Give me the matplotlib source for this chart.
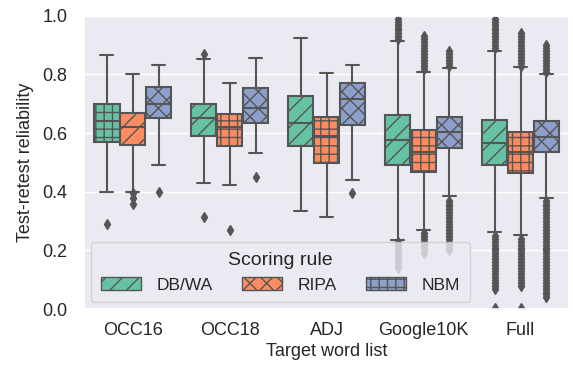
import numpy as np
import matplotlib
matplotlib.use("Agg")
import matplotlib.pyplot as plt
import seaborn as sns
from matplotlib.patches import Patch

sns.set_theme(style="darkgrid")
plt.rcParams['font.family'] = ['Liberation Sans', 'DejaVu Sans']

# word lists and scoring rules
word_lists = ["OCC16", "OCC18", "ADJ", "Google10K", "Full"]
rules = ["DB/WA", "RIPA", "NBM"]
colors = ["#66c2a5", "#fc8d62", "#8da0cb"]

# box statistics, one row per word list, one column per rule
q1 = [[0.57, 0.56, 0.65], [0.59, 0.557, 0.634], [0.557, 0.498, 0.628],
      [0.49, 0.468, 0.55], [0.49, 0.464, 0.536]]
med = [[0.64, 0.62, 0.70], [0.65, 0.62, 0.685], [0.636, 0.59, 0.716],
       [0.577, 0.536, 0.605], [0.567, 0.536, 0.587]]
q3 = [[0.70, 0.67, 0.757], [0.70, 0.665, 0.755], [0.725, 0.655, 0.77],
      [0.662, 0.61, 0.656], [0.645, 0.605, 0.64]]
whis_lo = [[0.40, 0.40, 0.49], [0.43, 0.423, 0.533], [0.335, 0.315, 0.44],
           [0.235, 0.27, 0.385], [0.263, 0.253, 0.38]]
whis_hi = [[0.868, 0.80, 0.833], [0.853, 0.77, 0.856], [0.925, 0.805, 0.833],
           [0.915, 0.81, 0.822], [0.88, 0.826, 0.80]]
fliers = [
    [[0.29], [0.395, 0.38, 0.36], [0.40]],
    [[0.87, 0.315], [0.27], [0.45]],
    [[], [], [0.397]],
    [[0.14, 0.15, 0.16, 0.17, 0.18, 0.19, 0.20, 0.21, 0.22, 0.23,
      0.92, 0.93, 0.94, 0.95, 0.96, 0.97, 0.98, 0.99],
     [0.19, 0.20, 0.21, 0.22, 0.23, 0.24, 0.25, 0.26,
      0.82, 0.83, 0.84, 0.85, 0.86, 0.87, 0.88, 0.89, 0.90, 0.91, 0.92, 0.93],
     [0.20, 0.21, 0.22, 0.23, 0.24, 0.25, 0.26, 0.27, 0.28, 0.29, 0.30,
      0.31, 0.32, 0.33, 0.34, 0.35, 0.36, 0.37,
      0.83, 0.84, 0.85, 0.86, 0.87, 0.88]],
    [[0.0, 0.005, 0.07, 0.08, 0.09, 0.10, 0.11, 0.12, 0.13, 0.14, 0.15, 0.16,
      0.17, 0.18, 0.19, 0.20, 0.21, 0.22, 0.23, 0.24, 0.25,
      0.89, 0.90, 0.91, 0.92, 0.93, 0.94, 0.95, 0.96, 0.97, 0.98, 0.99],
     [0.0, 0.005, 0.08, 0.09, 0.10, 0.11, 0.12, 0.13, 0.14, 0.15, 0.16, 0.17,
      0.18, 0.19, 0.20, 0.21, 0.22, 0.23, 0.24,
      0.83, 0.84, 0.85, 0.86, 0.87, 0.88, 0.89, 0.90, 0.91, 0.92, 0.93, 0.94],
     [0.04, 0.05, 0.06, 0.07, 0.08, 0.09, 0.10, 0.11, 0.12, 0.13, 0.14, 0.15,
      0.16, 0.17, 0.18, 0.19, 0.20, 0.21, 0.22, 0.23, 0.24, 0.25, 0.26, 0.27,
      0.28, 0.29, 0.30, 0.31, 0.32, 0.33, 0.34, 0.35, 0.36, 0.37,
      0.81, 0.82, 0.83, 0.84, 0.85, 0.86, 0.87, 0.88, 0.89, 0.90]],
]
# hatches as they appear on each box
hatches = [["++", "//", "xx"], ["//", "++", "xx"], ["//", "++", "xx"],
           ["//", "++", "xx"], ["//", "++", "xx"]]
legend_hatches = ["//", "xx", "++"]

edge = "#555555"
plt.rcParams['hatch.color'] = edge
plt.rcParams['hatch.linewidth'] = 1.0

fig = plt.figure(figsize=(5.73, 3.68), dpi=100)
ax = fig.add_axes([0.147, 0.160, 0.846, 0.797])
ax.grid(False, axis="x")

w = 0.8 / 3
for i in range(len(word_lists)):
    for j in range(len(rules)):
        st = dict(med=med[i][j], q1=q1[i][j], q3=q3[i][j],
                  whislo=whis_lo[i][j], whishi=whis_hi[i][j],
                  fliers=fliers[i][j])
        bp = ax.bxp([st], positions=[i + (j - 1) * w], widths=w * 0.98,
                    patch_artist=True, manage_ticks=False,
                    boxprops=dict(facecolor=colors[j], edgecolor=edge, linewidth=1.5),
                    medianprops=dict(color=edge, linewidth=1.5),
                    whiskerprops=dict(color=edge, linewidth=1.5),
                    capprops=dict(color=edge, linewidth=1.5),
                    flierprops=dict(marker="d", markersize=5, markerfacecolor=edge,
                                    markeredgecolor=edge, linestyle="none"),
                    capwidths=w * 0.5)
        bp["boxes"][0].set_hatch(hatches[i][j])

ax.set_xlim(-0.5, len(word_lists) - 0.5)
ax.set_ylim(0, 1)
ax.set_xticks(range(len(word_lists)))
ax.set_xticklabels(word_lists, fontsize=13)
ax.set_yticks([0.0, 0.2, 0.4, 0.6, 0.8, 1.0])
ax.tick_params(axis='y', labelsize=13, pad=6)
ax.set_xlabel("Target word list", fontsize=13, labelpad=3)
ax.set_ylabel("Test-retest reliability", fontsize=13, labelpad=6)

handles = [Patch(facecolor=colors[k], edgecolor=edge, hatch=legend_hatches[k],
                 linewidth=1.0, label=rules[k]) for k in range(3)]
leg = ax.legend(handles=handles, title="Scoring rule", ncol=3, loc="lower left",
                fontsize=12.5, title_fontsize=14, handlelength=2.3,
                handletextpad=0.9, columnspacing=1.7, borderaxespad=0.4,
                borderpad=0.55)

fig.savefig("out.png", dpi=100)
